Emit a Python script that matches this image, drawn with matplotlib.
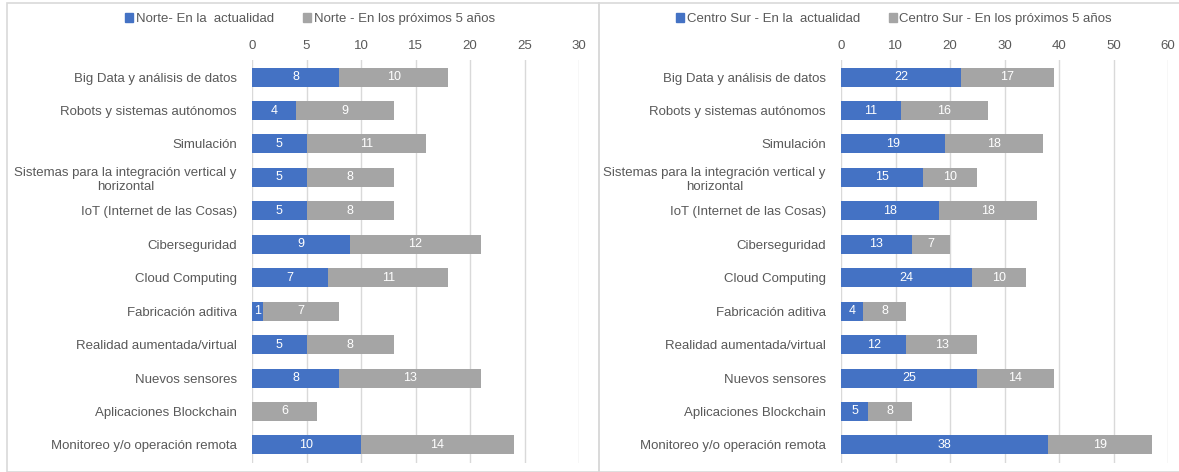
import matplotlib.pyplot as plt
from matplotlib.patches import Rectangle
from matplotlib.patches import Patch

plt.rcParams['font.family'] = ['Liberation Sans', 'DejaVu Sans']

categorias = [
    'Big Data y análisis de datos',
    'Robots y sistemas autónomos',
    'Simulación',
    'Sistemas para la integración vertical y\nhorizontal',
    'IoT (Internet de las Cosas)',
    'Ciberseguridad',
    'Cloud Computing',
    'Fabricación aditiva',
    'Realidad aumentada/virtual',
    'Nuevos sensores',
    'Aplicaciones Blockchain',
    'Monitoreo y/o operación remota',
]

norte_actual = [8, 4, 5, 5, 5, 9, 7, 1, 5, 8, 0, 10]
norte_futuro = [10, 9, 11, 8, 8, 12, 11, 7, 8, 13, 6, 14]
centro_actual = [22, 11, 19, 15, 18, 13, 24, 4, 12, 25, 5, 38]
centro_futuro = [17, 16, 18, 10, 18, 7, 10, 8, 13, 14, 8, 19]

AZUL = '#4472C4'
GRIS = '#A5A5A5'
TEXTO = '#595959'

fig = plt.figure(figsize=(11.79, 4.72), dpi=100)

# marcos de cada panel
for x0, w in [(7 / 1179, 592 / 1179), (599 / 1179, 590 / 1179)]:
    fig.patches.append(Rectangle((x0, 0.0), w, 1 - 3 / 472, transform=fig.transFigure,
                                 fill=False, edgecolor='#D9D9D9', lw=1.2))


def panel(pos, actual, futuro, xmax, paso, nombres, legend_x):
    ax = fig.add_axes(pos)
    y = list(range(len(categorias)))
    b1 = ax.barh(y, actual, height=0.57, color=AZUL)
    b2 = ax.barh(y, futuro, left=actual, height=0.57, color=GRIS)
    for bars, vals, lefts in [(b1, actual, [0] * len(actual)), (b2, futuro, actual)]:
        for v, l, yy in zip(vals, lefts, y):
            if v > 0:
                ax.text(l + v / 2, yy, str(v), ha='center', va='center',
                        color='white', fontsize=9)
    ax.set_ylim(len(categorias) - 0.46, -0.51)
    ax.set_xlim(0, xmax)
    ax.set_xticks(range(0, xmax + 1, paso))
    ax.xaxis.tick_top()
    ax.tick_params(axis='x', length=0, pad=6, labelsize=9.5, labelcolor=TEXTO)
    ax.set_yticks(y)
    ax.set_yticklabels(categorias, fontsize=9.5, color=TEXTO, multialignment='center')
    ax.tick_params(axis='y', length=0, pad=11)
    ax.grid(axis='x', color='#D9D9D9', lw=1)
    ax.set_axisbelow(True)
    for s in ax.spines.values():
        s.set_visible(False)
    handles = [Patch(color=AZUL), Patch(color=GRIS)]
    fig.legend(handles, nombres, loc='center', bbox_to_anchor=(legend_x, 1 - 19 / 472),
               ncol=2, frameon=False, fontsize=9.5, labelcolor=TEXTO,
               handlelength=0.6, handleheight=0.6, handletextpad=0.2, columnspacing=2.2)
    return ax


panel([252 / 1179, 9 / 472, 327 / 1179, 403 / 472], norte_actual, norte_futuro, 30, 5,
      ['Norte- En la  actualidad', 'Norte - En los próximos 5 años'], 310 / 1179)
panel([841 / 1179, 9 / 472, 327 / 1179, 403 / 472], centro_actual, centro_futuro, 60, 10,
      ['Centro Sur - En la  actualidad', 'Centro Sur - En los próximos 5 años'], 894 / 1179)

fig.savefig('out.png', dpi=100)
